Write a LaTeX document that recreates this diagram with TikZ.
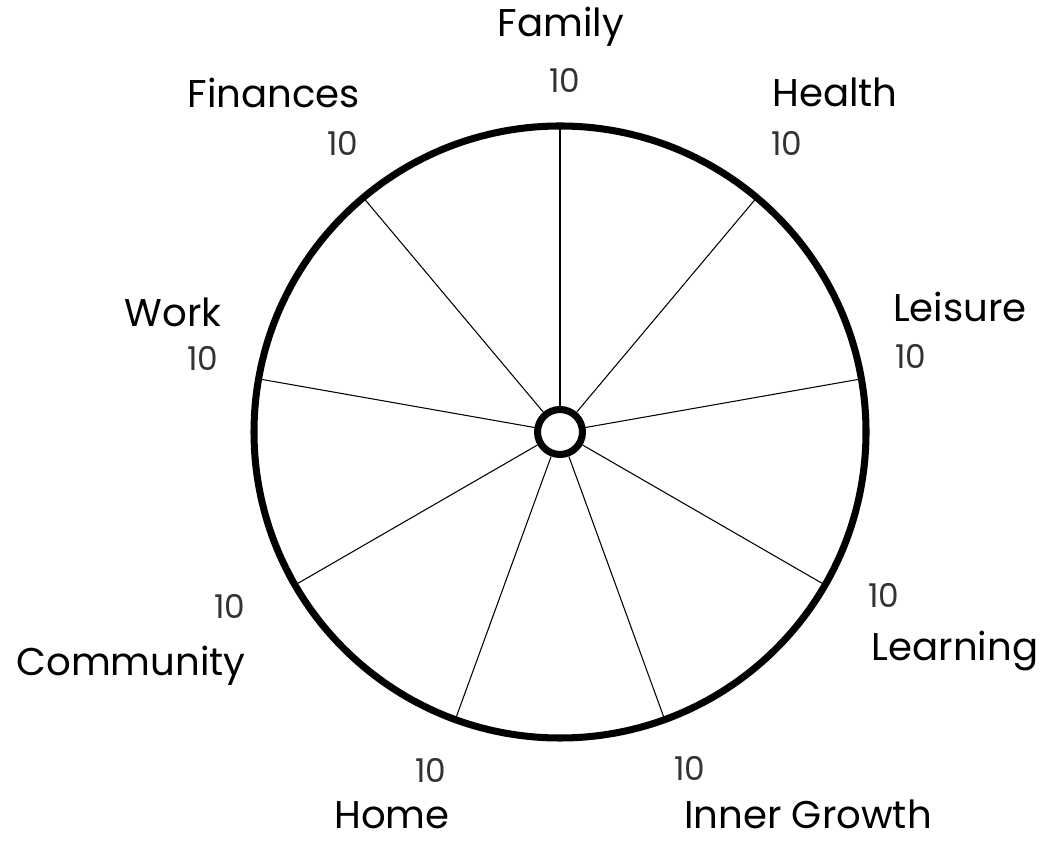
\documentclass[tikz,border=0pt]{standalone}
\usepackage{fontspec}
\setmainfont{Poppins}
\usetikzlibrary{positioning}

\tikzset{
    area/.style={font=\fontsize{33}{36}\selectfont, text=black},
    score/.style={font=\fontsize{28}{32}\selectfont, text=black!80},
    spoke/.style={line width=0.9pt},
}

\begin{document}
\begin{tikzpicture}[x=0.03cm, y=0.03cm]
    \useasboundingbox (0, 0) rectangle (1045, 844);

    % wheel
    \coordinate (c) at (560, 412);
    \draw [line width=6pt] (c) circle (306);
    \node[circle, draw, line width=6pt, minimum size=1.35cm, inner sep=0pt] (hub) at (c) {};

    \path (c) ++(90:306) coordinate (rFamily);
    \path (c) ++(50:306) coordinate (rHealth);
    \path (c) ++(10:306) coordinate (rLeisure);
    \path (c) ++(-30:306) coordinate (rLearning);
    \path (c) ++(-70:306) coordinate (rGrowth);
    \path (c) ++(-110:306) coordinate (rHome);
    \path (c) ++(-150:306) coordinate (rCommunity);
    \path (c) ++(170:306) coordinate (rWork);
    \path (c) ++(130:306) coordinate (rFinances);

    \draw [spoke] (hub) -- (rFamily);
    \draw [spoke] (hub) -- (rHealth);
    \draw [spoke] (hub) -- (rLeisure);
    \draw [spoke] (hub) -- (rLearning);
    \draw [spoke] (hub) -- (rGrowth);
    \draw [spoke] (hub) -- (rHome);
    \draw [spoke] (hub) -- (rCommunity);
    \draw [spoke] (hub) -- (rWork);
    \draw [spoke] (hub) -- (rFinances);

    % labels
    \node[area] (family) at (561, 817) {Family};
    \node[score] (sFamily) at (565, 764) {10};
    \node[area] (health) at (835, 752) {Health};
    \node[score] (sHealth) at (787, 701) {10};
    \node[area] (finances) at (274, 751) {Finances};
    \node[score] (sFinances) at (343, 701) {10};
    \node[area] (leisure) at (960, 537) {Leisure};
    \node[score] (sLeisure) at (911, 488) {10};
    \node[area] (work) at (173, 532) {Work};
    \node[score] (sWork) at (203, 486) {10};
    \node[score] (sLearning) at (884, 249) {10};
    \node[area] (learning) at (955, 193) {Learning};
    \node[score] (sCommunity) at (230, 238) {10};
    \node[area] (community) at (131, 178) {Community};
    \node[score] (sHome) at (431, 74) {10};
    \node[area, anchor=base, inner sep=1pt] (home) at (392, 16) {Home};
    \node[score] (sGrowth) at (690, 76) {10};
    \node[area, anchor=base, inner sep=1pt] (growth) at (808, 16) {Inner Growth};
\end{tikzpicture}
\end{document}
